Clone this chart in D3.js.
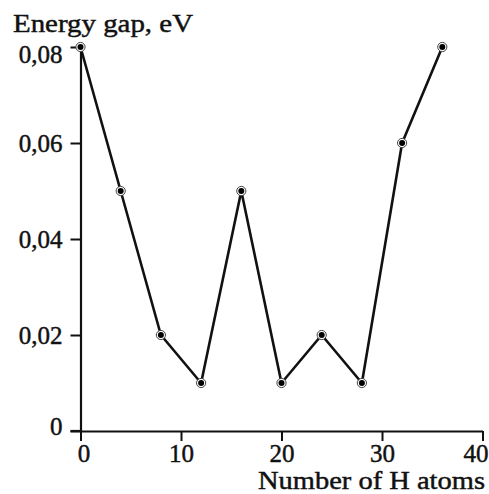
<!DOCTYPE html>
<html>
  <head>
    <meta charset="utf-8">
    <title>Energy gap vs number of H atoms</title>
    <style>
      body { margin: 0; background: #fff; }
      text { font-family: "Liberation Serif", "DejaVu Serif", serif; fill: #111; stroke: #111; stroke-width: 0.45px; }
    </style>
  </head>
  <body>
    <div id="chart"></div>
    <script src="https://cdn.jsdelivr.net/npm/d3@7"></script>
    <script>
      // data
      var hAtoms = [0, 4, 8, 12, 16, 20, 24, 28, 32, 36];
      var energyGap = [0.08, 0.05, 0.02, 0.01, 0.05, 0.01, 0.02, 0.01, 0.06, 0.08];
      var xTicks = [0, 10, 20, 30, 40];
      var yTicks = [0, 0.02, 0.04, 0.06, 0.08];
      var yTickLabels = ["0", "0,02", "0,04", "0,06", "0,08"];

      var width = 489, height = 494;
      var svg = d3.select("#chart").append("svg").attr("width", width).attr("height", height);

      var x = d3.scaleLinear().domain([0, 40]).range([80.5, 482.5]);
      var y = d3.scaleLinear().domain([0, 0.08]).range([431, 47]);

      // x axis
      var gx = svg.append("g").attr("transform", "translate(0," + y(0) + ")")
        .call(d3.axisBottom(x).tickValues(xTicks).tickSize(10).tickSizeOuter(0).tickFormat(d3.format("d")));
      gx.select(".domain").attr("stroke", "#111").attr("stroke-width", 2.2);
      gx.selectAll(".tick line").attr("stroke", "#111").attr("stroke-width", 2);
      gx.selectAll(".tick text").attr("font-size", 25).attr("y", 13).attr("font-family", null).attr("fill", null)
        .attr("dx", function(d) { return d === 40 ? -7 : (d === 0 ? 3 : 0); });

      // y axis
      var gy = svg.append("g").attr("transform", "translate(" + x(0) + ",0)")
        .call(d3.axisLeft(y).tickValues(yTicks).tickSize(10).tickSizeOuter(0)
          .tickFormat(function(d, i) { return yTickLabels[i]; }));
      gy.select(".domain").attr("stroke", "#111").attr("stroke-width", 2.2);
      gy.selectAll(".tick line").attr("stroke", "#111").attr("stroke-width", 2);
      gy.selectAll(".tick text").attr("font-size", 25).attr("x", -18).attr("font-family", null).attr("fill", null)
        .attr("y", function(d) { return d === 0.08 ? 7 : (d === 0 ? -5 : 0); });
      // extend x domain line under the y tick at 0
      svg.append("line").attr("x1", x(0) - 10).attr("x2", x(0)).attr("y1", y(0)).attr("y2", y(0))
        .attr("stroke", "#111").attr("stroke-width", 2.2);

      // axis titles
      svg.append("text").attr("x", 13).attr("y", 32).attr("font-size", 26)
        .attr("textLength", 180).attr("lengthAdjust", "spacingAndGlyphs")
        .text("Energy gap, eV");
      svg.append("text").attr("x", 258).attr("y", 489).attr("font-size", 25)
        .attr("textLength", 227).attr("lengthAdjust", "spacingAndGlyphs")
        .text("Number of H atoms");

      // line
      var pts = hAtoms.map(function(d, i) { return [d, energyGap[i]]; });
      svg.append("path").datum(pts)
        .attr("fill", "none").attr("stroke", "#111").attr("stroke-width", 2.6)
        .attr("stroke-linejoin", "round")
        .attr("d", d3.line().x(function(d) { return x(d[0]); }).y(function(d) { return y(d[1]); }));

      // markers
      var m = svg.selectAll("g.pt").data(pts).enter().append("g").attr("class", "pt");
      m.append("circle").attr("cx", function(d) { return x(d[0]); }).attr("cy", function(d) { return y(d[1]); })
        .attr("r", 4.6).attr("fill", "#fff").attr("stroke", "#444").attr("stroke-width", 1);
      m.append("circle").attr("cx", function(d) { return x(d[0]); }).attr("cy", function(d) { return y(d[1]); })
        .attr("r", 3).attr("fill", "#000");
    </script>
  </body>
</html>
